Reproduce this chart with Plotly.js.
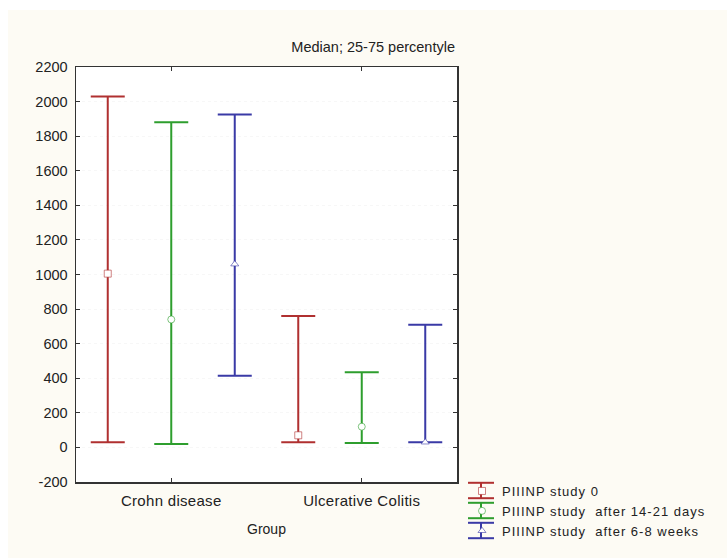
<!DOCTYPE html>
<html>
<head>
<meta charset="utf-8">
<script src="https://cdn.plot.ly/plotly-3.0.1.min.js"></script>
<style>
html,body{margin:0;padding:0;background:#fff;}
#chart{width:727px;height:558px;}
.legendtext{letter-spacing:1px;}
.xtick text{letter-spacing:0.3px;}
</style>
</head>
<body>
<div id="chart"></div>
<script>
// Data
const groups = ["Crohn disease", "Ulcerative Colitis"];
const seriesNames = ["PIIINP study 0", "PIIINP study  after 14-21 days", "PIIINP study  after 6-8 weeks"];
const median0 = [1005, 70];
const q25_0 = [30, 30];
const q75_0 = [2030, 760];
const median1 = [740, 120];
const q25_1 = [20, 25];
const q75_1 = [1880, 435];
const median2 = [1060, 30];
const q25_2 = [415, 30];
const q75_2 = [1925, 710];
const yTickVals = [-200, 0, 200, 400, 600, 800, 1000, 1200, 1400, 1600, 1800, 2000, 2200];

const colors = ["#b03030", "#2e9e2e", "#3a3aa6"];
const symbols = ["square", "circle", "triangle-up"];
const medians = [median0, median1, median2];
const q25s = [q25_0, q25_1, q25_2];
const q75s = [q75_0, q75_1, q75_2];

const traces = seriesNames.map((name, i) => ({
  type: "scatter",
  mode: "markers",
  name: name,
  x: groups,
  y: medians[i],
  marker: {symbol: symbols[i], size: 7, color: "#ffffff", line: {color: colors[i], width: 0.6}},
  error_y: {
    type: "data", symmetric: false,
    array: q75s[i].map((v, k) => v - medians[i][k]),
    arrayminus: medians[i].map((v, k) => v - q25s[i][k]),
    color: colors[i], thickness: 2, width: 17
  },
  cliponaxis: false
}));

// pixel -> paper helpers for decorative shapes (plot area: x 76..457, y 67..482)
const px = v => (v - 76) / 381;
const py = v => (482 - v) / 415;

const shapes = [
  {type: "rect", xref: "paper", yref: "paper", layer: "below",
   x0: px(8), x1: px(727), y0: py(558), y1: py(10),
   fillcolor: "#fdfbf4", line: {width: 0}},
  {type: "rect", xref: "paper", yref: "paper", layer: "below",
   x0: 0, x1: 1, y0: 0, y1: 1,
   fillcolor: "#ffffff", line: {width: 0}}
];
// legend glyphs: error-bar style symbol (cap, stem, cap)
const legendCenters = [490.5, 510.5, 530.5];
legendCenters.forEach((c, i) => {
  const ln = {color: colors[i], width: 2};
  shapes.push({type: "line", xref: "paper", yref: "paper", layer: "above", x0: px(468), x1: px(494), y0: py(c - 7.7), y1: py(c - 7.7), line: ln});
  shapes.push({type: "line", xref: "paper", yref: "paper", layer: "above", x0: px(468), x1: px(494), y0: py(c + 7.7), y1: py(c + 7.7), line: ln});
  shapes.push({type: "line", xref: "paper", yref: "paper", layer: "above", x0: px(481), x1: px(481), y0: py(c - 7.7), y1: py(c + 7.7), line: ln});
});

const layout = {
  width: 727, height: 558,
  paper_bgcolor: "#ffffff",
  plot_bgcolor: "#ffffff",
  font: {family: "Liberation Sans, Arial, sans-serif", size: 13, color: "#222"},
  margin: {l: 76, r: 270, t: 67, b: 76, autoexpand: false},
  scattermode: "group",
  scattergap: 0,
  showlegend: true,
  title: {text: "Median; 25-75 percentyle", x: 455/727, xanchor: "right", y: 1 - 47/558, yanchor: "middle", font: {size: 14.5, color: "#222"}},
  xaxis: {
    type: "category", range: [-0.5, 1.5], automargin: false,
    showline: true, linecolor: "#333", linewidth: 1.5, mirror: "ticks",
    ticks: "inside", ticklen: 4, tickcolor: "#333",
    showgrid: false, zeroline: false,
    ticklabelstandoff: 4,
    tickfont: {size: 15, color: "#222"},
    title: {text: "Group", font: {size: 14, color: "#222"}, standoff: 16}
  },
  yaxis: {
    range: [-200, 2200], tickvals: yTickVals, ticktext: yTickVals.map(String), automargin: false,
    showline: true, linecolor: "#333", linewidth: 1.5, mirror: "ticks",
    ticks: "inside", ticklen: 4, tickcolor: "#333",
    showgrid: true, gridcolor: "#f7f7f7", griddash: "dot",
    zeroline: false,
    ticklabelstandoff: 4,
    tickfont: {size: 14.5, color: "#222"}
  },
  legend: {
    x: px(462), xanchor: "left",
    y: py(476), yanchor: "top",
    bgcolor: "rgba(0,0,0,0)",
    font: {size: 13, color: "#222"},
    itemwidth: 30,
    tracegroupgap: 0
  },
  shapes: shapes
};

Plotly.newPlot("chart", traces, layout, {displayModeBar: false, staticPlot: true});
</script>
</body>
</html>
